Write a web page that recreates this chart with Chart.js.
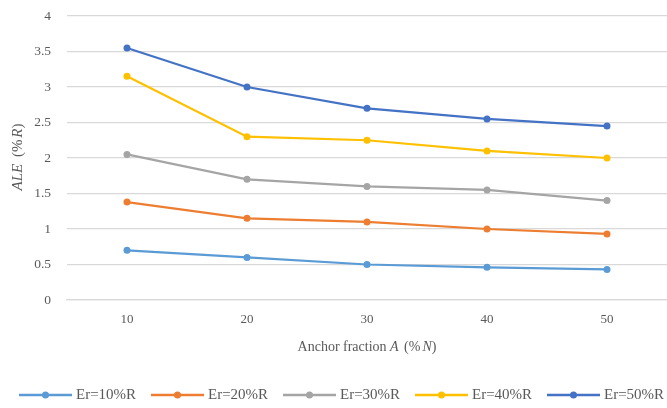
<!DOCTYPE html>
<html>
<head>
<meta charset="utf-8">
<script src="https://cdn.jsdelivr.net/npm/chart.js@4/dist/chart.umd.min.js"></script>
<style>
  html, body { margin: 0; padding: 0; background: #fff; overflow: hidden; }
  #wrap { width: 667px; height: 408px; position: relative; overflow: hidden; }
</style>
</head>
<body>
<div id="wrap"><canvas id="c"></canvas></div>
<script>
// Anchor fraction A (%N) on the x axis
const anchorFractions = ['10', '20', '30', '40', '50'];

// ALE (%R) for each range error level
const er10 = [0.70, 0.60, 0.50, 0.46, 0.43];
const er20 = [1.38, 1.15, 1.10, 1.00, 0.93];
const er30 = [2.05, 1.70, 1.60, 1.55, 1.40];
const er40 = [3.15, 2.30, 2.25, 2.10, 2.00];
const er50 = [3.55, 3.00, 2.70, 2.55, 2.45];

const seriesNames = ['Er=10%R', 'Er=20%R', 'Er=30%R', 'Er=40%R', 'Er=50%R'];
const seriesColors = ['#5B9BD5', '#ED7D31', '#A5A5A5', '#FFC000', '#4472C4'];
const seriesValues = [er10, er20, er30, er40, er50];

const FONT = '"Liberation Serif", "Times New Roman", serif';
const TEXT = '#595959';

// Plain/italic text runs; pad adds extra space after a run
function runsWidth(ctx, runs, size) {
  return runs.reduce((w, r) => {
    ctx.font = (r.italic ? 'italic ' : '') + size + 'px ' + FONT;
    return w + ctx.measureText(r.text).width + (r.pad || 0);
  }, 0);
}
function drawRuns(ctx, runs, x, y, size) {
  let cx = x;
  ctx.textBaseline = 'middle';
  ctx.textAlign = 'left';
  ctx.fillStyle = TEXT;
  runs.forEach(r => {
    ctx.font = (r.italic ? 'italic ' : '') + size + 'px ' + FONT;
    ctx.fillText(r.text, cx, y);
    cx += ctx.measureText(r.text).width + (r.pad || 0);
  });
}

const xTitleRuns = [
  { text: 'Anchor fraction ' },
  { text: 'A', italic: true },
  { text: ' ', pad: 2 },
  { text: '(' },
  { text: '%', pad: 2 },
  { text: 'N', italic: true },
  { text: ')' }
];
const yTitleRuns = [
  { text: 'ALE', italic: true },
  { text: ' ', pad: 3 },
  { text: '(' },
  { text: '%', pad: 2 },
  { text: 'R', italic: true },
  { text: ')' }
];

const axisTitles = {
  id: 'axisTitles',
  afterDraw(chart) {
    const ctx = chart.ctx;
    ctx.save();
    const wx = runsWidth(ctx, xTitleRuns, 14);
    drawRuns(ctx, xTitleRuns, 367 - wx / 2, 347, 14);
    ctx.translate(18, 157);
    ctx.rotate(-Math.PI / 2);
    const wy = runsWidth(ctx, yTitleRuns, 15);
    drawRuns(ctx, yTitleRuns, -wy / 2, 0, 15);
    ctx.restore();
  }
};

// Legend row under the plot: line sample with a marker, then the series name
const lineLegend = {
  id: 'lineLegend',
  afterDraw(chart) {
    const ctx = chart.ctx;
    const y = 395;
    ctx.save();
    chart.data.datasets.forEach((ds, i) => {
      const x0 = 19 + i * 132;
      ctx.strokeStyle = ds.borderColor;
      ctx.lineWidth = 2.5;
      ctx.beginPath();
      ctx.moveTo(x0, y);
      ctx.lineTo(x0 + 53, y);
      ctx.stroke();
      ctx.fillStyle = ds.borderColor;
      ctx.beginPath();
      ctx.arc(x0 + 26.5, y, 3.5, 0, Math.PI * 2);
      ctx.fill();
      ctx.font = '15px ' + FONT;
      ctx.fillStyle = TEXT;
      ctx.textAlign = 'left';
      ctx.textBaseline = 'middle';
      ctx.fillText(ds.label, x0 + 57, y);
    });
    ctx.restore();
  }
};

new Chart(document.getElementById('c'), {
  type: 'line',
  data: {
    labels: anchorFractions,
    datasets: seriesValues.map((vals, i) => ({
      label: seriesNames[i],
      data: vals,
      borderColor: seriesColors[i],
      backgroundColor: seriesColors[i],
      borderWidth: 2.25,
      pointRadius: 3.5,
      pointHoverRadius: 3.5,
      pointBorderWidth: 0,
      tension: 0
    }))
  },
  options: {
    responsive: true,
    maintainAspectRatio: false,
    animation: false,
    layout: { autoPadding: false, padding: { top: 16, right: -4, bottom: 0, left: 0 } },
    plugins: {
      tooltip: { enabled: false },
      legend: { display: false }
    },
    scales: {
      x: {
        offset: true,
        grid: { display: false, drawTicks: false },
        border: { display: true, color: '#D9D9D9', width: 1.3 },
        ticks: { color: TEXT, font: { family: FONT, size: 13 }, padding: 12 },
        afterFit(scale) {
          scale.height = 108;
          scale.paddingLeft = 0;
          scale.paddingRight = 0;
        }
      },
      y: {
        min: 0,
        max: 4,
        grid: { color: '#D9D9D9', lineWidth: 1.3, drawTicks: false },
        border: { display: false },
        ticks: {
          stepSize: 0.5,
          color: TEXT,
          font: { family: FONT, size: 13.5 },
          padding: 16,
          callback: v => String(Number(v))
        },
        afterFit(scale) {
          scale.width = 67;
          scale.paddingTop = 0;
          scale.paddingBottom = 0;
        }
      }
    }
  },
  plugins: [axisTitles, lineLegend]
});
</script>
</body>
</html>
